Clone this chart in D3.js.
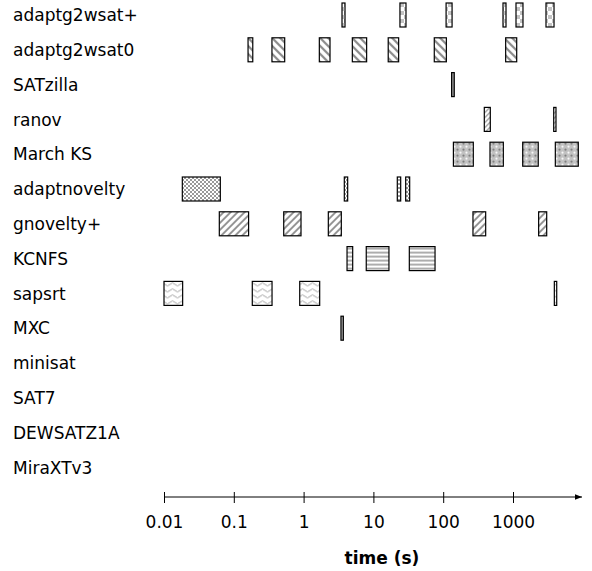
<!DOCTYPE html>
<html>
<head>
<meta charset="utf-8">
<script src="https://cdn.jsdelivr.net/npm/d3@7"></script>
<style>
  body { margin: 0; background: #fff; }
  svg { display: block; font-family: "DejaVu Sans", Verdana, sans-serif; }
</style>
</head>
<body>
<div id="chart"></div>
<script>
// solvers, top to bottom
var solvers = ["adaptg2wsat+", "adaptg2wsat0", "SATzilla", "ranov", "March KS", "adaptnovelty",
	"gnovelty+", "KCNFS", "sapsrt", "MXC", "minisat", "SAT7", "DEWSATZ1A", "MiraXTv3"];

// [start, end] in seconds, one list per solver
var intervals = [
	[[3.55, 3.92], [24, 29.3], [110, 134], [719, 794], [1104, 1390], [2970, 3870]],
	[[0.16, 0.187], [0.352, 0.536], [1.68, 2.39], [4.99, 8.0], [16.3, 23], [74.5, 111], [785, 1130]],
	[[132, 144]],
	[[388, 473], [3830, 4130]],
	[[140, 270], [468, 727], [1377, 2300], [4040, 8620]],
	[[0.0183, 0.0641], [3.83, 4.28], [22, 24.6], [29, 33.1]],
	[[0.062, 0.163], [0.519, 0.918], [2.26, 3.47], [267, 406], [2330, 3040]],
	[[4.19, 5.05], [7.9, 16.7], [32.7, 76.4]],
	[[0.01, 0.0185], [0.184, 0.353], [0.88, 1.70], [3910, 4230]],
	[[3.43, 3.71]],
	[], [], [], []
];

var tickValues = [0.01, 0.1, 1, 10, 100, 1000];

var width = 592, height = 571;
var svg = d3.select("#chart").append("svg").attr("width", width).attr("height", height);
var defs = svg.append("defs");

// fill patterns, one per solver row
function pat(id, w, h, build) {
	var p = defs.append("pattern").attr("id", id)
		.attr("patternUnits", "userSpaceOnUse").attr("width", w).attr("height", h);
	p.append("rect").attr("width", w).attr("height", h).attr("fill", "#fff");
	build(p);
}
var GREY = "#8a8a8a";
pat("p0", 8, 8, p => {
	p.append("rect").attr("x", 0).attr("y", 0).attr("width", 4).attr("height", 4).attr("fill", "#c4c4c4");
	p.append("rect").attr("x", 4).attr("y", 4).attr("width", 4).attr("height", 4).attr("fill", "#c4c4c4");
});
pat("p1", 8, 8, p => {
	p.append("path").attr("d", "M-2,-2L10,10M-2,6L2,10M6,-2L10,2").attr("stroke", GREY).attr("stroke-width", 2.2);
});
pat("p2", 4, 4, p => { p.append("rect").attr("width", 4).attr("height", 4).attr("fill", "#999"); });
pat("p3", 5, 5, p => {
	p.append("path").attr("d", "M-1,6L6,-1M-1,1L1,-1M4,6L6,4").attr("stroke", GREY).attr("stroke-width", 1.2);
});
pat("p4", 6, 6, p => {
	p.select("rect").attr("fill", "#c2c2c2");
	p.append("circle").attr("cx", 1.5).attr("cy", 1.5).attr("r", 1.1).attr("fill", "#777");
	p.append("circle").attr("cx", 4.5).attr("cy", 4.5).attr("r", 1.1).attr("fill", "#fff");
});
pat("p5", 4, 4, p => {
	p.append("rect").attr("x", 0).attr("y", 0).attr("width", 2).attr("height", 2).attr("fill", "#999");
	p.append("rect").attr("x", 2).attr("y", 2).attr("width", 2).attr("height", 2).attr("fill", "#999");
});
pat("p6", 7, 7, p => {
	p.append("path").attr("d", "M-2,9L9,-2M-2,2L2,-2M5,9L9,5").attr("stroke", GREY).attr("stroke-width", 1.8);
});
pat("p7", 4, 4, p => {
	p.append("path").attr("d", "M0,2H4").attr("stroke", "#777").attr("stroke-width", 1.2);
});
pat("p8", 10, 6, p => {
	p.append("path").attr("d", "M0,3Q2.5,0 5,3T10,3").attr("fill", "none").attr("stroke", "#999").attr("stroke-width", 0.9);
});
pat("p9", 4, 4, p => { p.append("rect").attr("width", 4).attr("height", 4).attr("fill", "#aaa"); });

var x = d3.scaleLog().domain([0.01, 1000]).range([164, 513]);
var y = d3.scalePoint().domain(solvers).range([15, 15 + 34.8 * (solvers.length - 1)]);
var BAR_H = 24;

// row labels
svg.append("g").selectAll("text")
	.data(solvers)
	.enter()
	.append("text")
	.attr("x", 13)
	.attr("y", d => y(d))
	.attr("dy", "0.36em")
	.style("font-size", "17px")
	.style("fill", "#000")
	.text(d => d);

// bars
var rows = svg.append("g").selectAll("g")
	.data(solvers)
	.enter()
	.append("g")
	.attr("transform", d => `translate(0,${ y(d) - BAR_H / 2 })`);

rows.selectAll("rect")
	.data((d, i) => intervals[i].map(iv => ({ iv: iv, row: i })))
	.enter()
	.append("rect")
	.attr("x", d => x(d.iv[0]))
	.attr("y", 0)
	.attr("width", d => x(d.iv[1]) - x(d.iv[0]))
	.attr("height", BAR_H)
	.style("fill", d => `url(#p${ d.row })`)
	.style("stroke", "#000")
	.style("stroke-width", "1.2px");

// time axis with arrow
var AXIS_Y = 497;
defs.append("marker").attr("id", "arrow")
	.attr("viewBox", "0 0 10 10").attr("refX", 10).attr("refY", 5)
	.attr("markerWidth", 7).attr("markerHeight", 7).attr("markerUnits", "userSpaceOnUse")
	.attr("orient", "auto")
	.append("path").attr("d", "M0,1L10,5L0,9Z").attr("fill", "#000");

var axis = svg.append("g").attr("transform", `translate(0,${ AXIS_Y })`)
	.call(d3.axisBottom(x).tickValues(tickValues).tickFormat(d3.format("~g")).tickSize(6).tickPadding(13));
axis.select(".domain").remove();
axis.selectAll(".tick line").attr("y1", -5).attr("y2", 6).attr("stroke", "#000");
axis.selectAll(".tick text")
	.style("font-family", "\"DejaVu Sans\", Verdana, sans-serif")
	.style("font-size", "17px")
	.attr("fill", "#000");

svg.append("line")
	.attr("x1", x(0.01)).attr("x2", 582)
	.attr("y1", AXIS_Y).attr("y2", AXIS_Y)
	.attr("stroke", "#000").attr("stroke-width", 1)
	.attr("marker-end", "url(#arrow)");

svg.append("text").text("time (s)")
	.attr("x", 382).attr("y", 564)
	.style("text-anchor", "middle")
	.style("font-size", "17px")
	.style("font-weight", 700);
</script>
</body>
</html>
